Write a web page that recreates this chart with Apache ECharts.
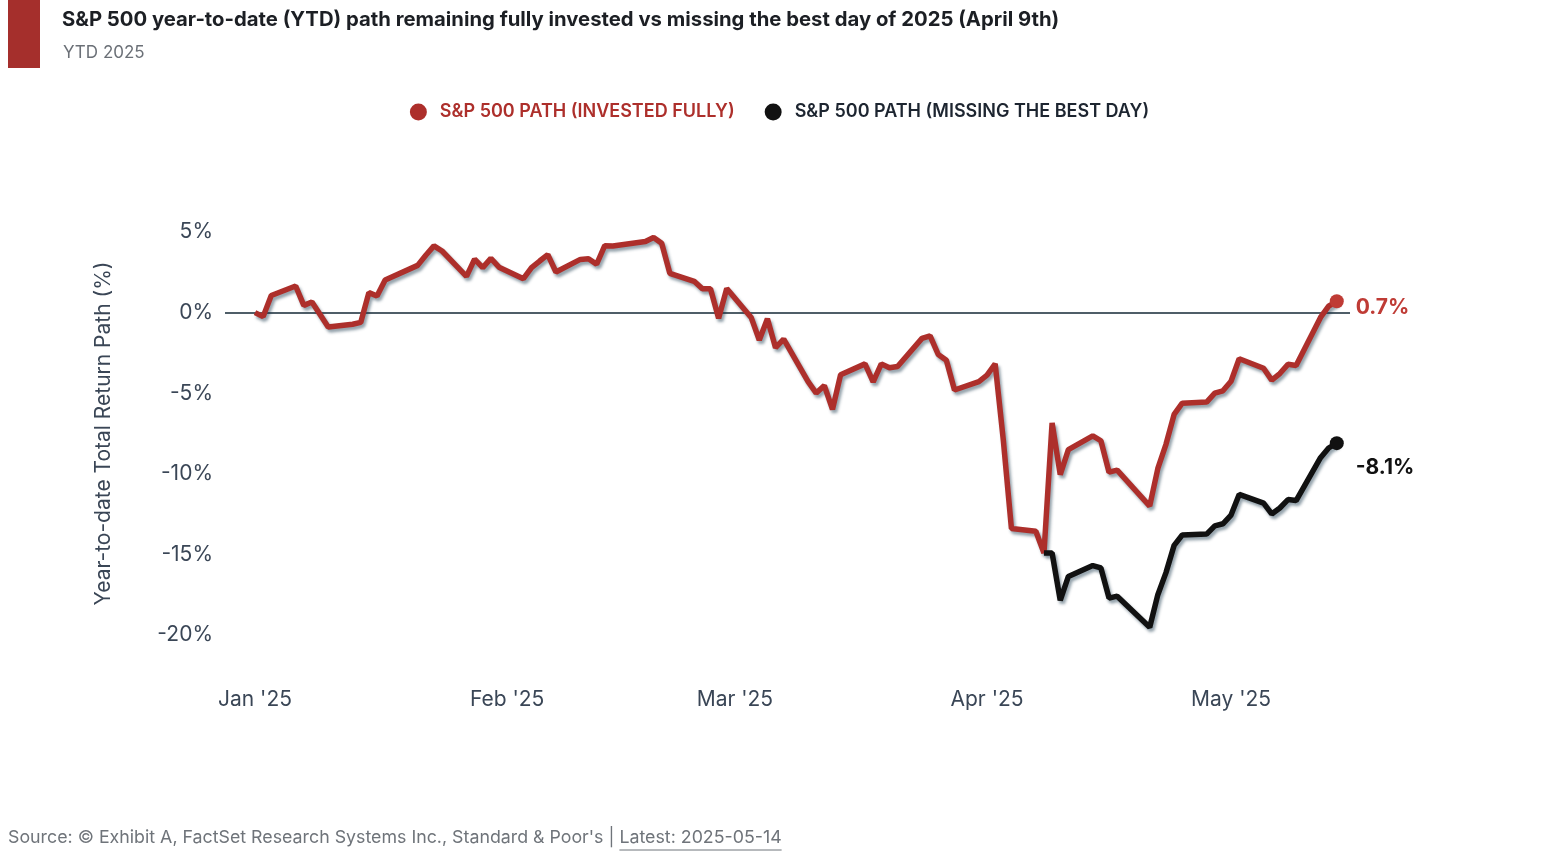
<!DOCTYPE html>
<html>
<head>
<meta charset="utf-8">
<script src="https://cdn.jsdelivr.net/npm/echarts@6/dist/echarts.min.js"></script>
<style>
html,body{margin:0;padding:0;background:#fff;}
#chart{width:1559px;height:852px;}
</style>
</head>
<body>
<div id="chart"></div>
<script>
// ---- Data ----
const investedDates = [
 '2025-01-01','2025-01-02','2025-01-03','2025-01-06','2025-01-07','2025-01-08','2025-01-10','2025-01-13','2025-01-14','2025-01-15',
 '2025-01-16','2025-01-17','2025-01-21','2025-01-22','2025-01-23','2025-01-24','2025-01-27','2025-01-28','2025-01-29','2025-01-30',
 '2025-01-31','2025-02-03','2025-02-04','2025-02-05','2025-02-06','2025-02-07','2025-02-10','2025-02-11','2025-02-12','2025-02-13',
 '2025-02-14','2025-02-18','2025-02-19','2025-02-20','2025-02-21','2025-02-24','2025-02-25','2025-02-26','2025-02-27','2025-02-28',
 '2025-03-03','2025-03-04','2025-03-05','2025-03-06','2025-03-07','2025-03-10','2025-03-11','2025-03-12','2025-03-13','2025-03-14',
 '2025-03-17','2025-03-18','2025-03-19','2025-03-20','2025-03-21','2025-03-24','2025-03-25','2025-03-26','2025-03-27','2025-03-28',
 '2025-03-31','2025-04-01','2025-04-02','2025-04-03','2025-04-04','2025-04-07','2025-04-08','2025-04-09','2025-04-10','2025-04-11',
 '2025-04-14','2025-04-15','2025-04-16','2025-04-17','2025-04-21','2025-04-22','2025-04-23','2025-04-24','2025-04-25','2025-04-28',
 '2025-04-29','2025-04-30','2025-05-01','2025-05-02','2025-05-05','2025-05-06','2025-05-07','2025-05-08','2025-05-09','2025-05-12',
 '2025-05-13','2025-05-14'
];
const investedValues = [
 0.00,-0.25,1.06,1.65,0.45,0.66,-0.89,-0.72,-0.61,1.24,
 1.03,2.02,2.93,3.56,4.14,3.82,2.25,3.32,2.79,3.36,
 2.82,2.10,2.79,3.20,3.60,2.52,3.30,3.34,3.00,4.15,
 4.13,4.41,4.66,4.30,2.44,1.94,1.48,1.48,-0.35,1.50,
 -0.30,-1.70,-0.38,-2.18,-1.64,-4.28,-4.99,-4.53,-6.00,-3.85,
 -3.18,-4.30,-3.18,-3.42,-3.34,-1.60,-1.44,-2.60,-2.95,-4.80,
 -4.28,-3.88,-3.18,-7.90,-13.40,-13.56,-14.91,-6.84,-10.05,-8.50,
 -7.65,-7.95,-9.90,-9.77,-12.00,-9.67,-8.17,-6.32,-5.62,-5.55,
 -5.00,-4.85,-4.26,-2.86,-3.45,-4.19,-3.78,-3.21,-3.28,-0.30,
 0.40,0.70
];
const missingDates = [
 '2025-04-08','2025-04-09','2025-04-10','2025-04-11','2025-04-14','2025-04-15','2025-04-16','2025-04-17','2025-04-21','2025-04-22',
 '2025-04-23','2025-04-24','2025-04-25','2025-04-28','2025-04-29','2025-04-30','2025-05-01','2025-05-02','2025-05-05','2025-05-06',
 '2025-05-07','2025-05-08','2025-05-09','2025-05-12','2025-05-13','2025-05-14'
];
const missingValues = [
 -14.91,-14.91,-17.85,-16.37,-15.69,-15.84,-17.71,-17.59,-19.52,-17.50,
 -16.13,-14.44,-13.80,-13.74,-13.23,-13.10,-12.56,-11.28,-11.82,-12.49,
 -12.12,-11.60,-11.66,-9.00,-8.40,-8.10
];
const seriesNames = ['S&P 500 PATH (INVESTED FULLY)', 'S&P 500 PATH (MISSING THE BEST DAY)'];
const yTicks = [-20, -15, -10, -5, 0, 5];
const monthLabels = ['Jan','Feb','Mar','Apr','May','Jun','Jul','Aug','Sep','Oct','Nov','Dec'];
const endLabels = ['0.7%', '-8.1%'];
const sourceText = "Source: \u00A9 Exhibit A, FactSet Research Systems Inc., Standard & Poor's | ";
const latestText = 'Latest: 2025-05-14';

const RED = '#ad2f2b';
const DOT_RED = '#bf3b35';
const BLACK = '#111111';
const TEXT = '#3a4656';
const FONT = 'Inter, "Noto Sans", sans-serif';
const FOOT_FONT = '17.8px ' + FONT;

// measure footer text to place the underlined part
const ctx = document.createElement('canvas').getContext('2d');
ctx.font = FOOT_FONT;
const srcW = ctx.measureText(sourceText).width;
const latW = ctx.measureText(latestText).width;
const latX = 8 + srcW;

const invested = investedDates.map((d, i) => [d, investedValues[i]]);
const missing = missingDates.map((d, i) => [d, missingValues[i]]);
const shadow = {shadowColor: 'rgba(20,50,70,0.45)', shadowBlur: 3, shadowOffsetX: 2, shadowOffsetY: 3};

const chart = echarts.init(document.getElementById('chart'));
chart.setOption({
  backgroundColor: '#fff',
  animation: false,
  textStyle: {fontFamily: FONT},
  graphic: [
    {type: 'rect', left: 8, top: 0, shape: {width: 32, height: 68}, style: {fill: '#a52f2c'}},
    {type: 'text', left: 62, top: 10, style: {text: 'S&P 500 year-to-date (YTD) path remaining fully invested vs missing the best day of 2025 (April 9th)', font: 'bold 20.3px ' + FONT, fill: '#1c1f24'}},
    {type: 'text', left: 63, top: 44, style: {text: 'YTD 2025', font: '17px ' + FONT, fill: '#6b7077'}},
    {type: 'text', left: 8, top: 829, style: {text: sourceText, font: FOOT_FONT, fill: '#6f747a'}},
    {type: 'text', left: latX, top: 829, style: {text: latestText, font: FOOT_FONT, fill: '#6f747a'}},
    {type: 'line', shape: {x1: latX, y1: 850, x2: latX + latW, y2: 850}, style: {stroke: '#6f747a', lineWidth: 1}}
  ],
  legend: {
    top: 98,
    left: 'center',
    itemWidth: 17,
    itemHeight: 17,
    itemGap: 30,
    icon: 'circle',
    textStyle: {fontSize: 18, fontFamily: FONT, fontWeight: 600, padding: [0, 0, 0, 8]},
    data: [
      {name: seriesNames[0], textStyle: {color: RED}},
      {name: seriesNames[1], textStyle: {color: '#1d2530'}}
    ]
  },
  grid: {left: 225, right: 209, top: 232, bottom: 217, containLabel: false},
  xAxis: {
    type: 'time',
    min: new Date(2024, 11, 28, 7, 30).getTime(),
    max: new Date(2025, 4, 15, 15, 0).getTime(),
    minInterval: 28 * 86400000,
    maxInterval: 31 * 86400000,
    axisLine: {show: false},
    axisTick: {show: false},
    splitLine: {show: false},
    axisLabel: {
      margin: 54,
      fontSize: 21,
      color: TEXT,
      fontFamily: FONT,
      formatter: function (v) {
        const d = new Date(v);
        return monthLabels[d.getMonth()] + " '" + String(d.getFullYear()).slice(2);
      }
    }
  },
  yAxis: {
    type: 'value',
    min: yTicks[0],
    max: yTicks[yTicks.length - 1],
    interval: 5,
    name: 'Year-to-date Total Return Path (%)',
    nameLocation: 'middle',
    nameGap: 111,
    nameTextStyle: {fontSize: 21, color: TEXT, fontFamily: FONT},
    axisLine: {show: false},
    axisTick: {show: false},
    splitLine: {show: false},
    axisLabel: {margin: 12, fontSize: 21, color: TEXT, fontFamily: FONT, formatter: v => v + '%'}
  },
  series: [
    {
      name: seriesNames[0],
      type: 'line',
      data: invested,
      showSymbol: false,
      color: RED,
      lineStyle: Object.assign({width: 5.5, color: RED}, shadow),
      z: 3,
      markLine: {
        silent: true,
        symbol: 'none',
        label: {show: false},
        lineStyle: {color: '#4f5e68', width: 2, type: 'solid'},
        data: [{yAxis: 0}],
        z: 1
      }
    },
    {
      name: seriesNames[1],
      type: 'line',
      data: missing,
      showSymbol: false,
      color: BLACK,
      lineStyle: Object.assign({width: 5.5, color: BLACK}, shadow),
      z: 4
    },
    {
      type: 'scatter',
      data: [invested[invested.length - 1]],
      symbolSize: 14,
      itemStyle: {color: DOT_RED, opacity: 1},
      z: 5,
      label: {show: true, position: 'right', distance: 12, offset: [0, 6], formatter: endLabels[0], color: DOT_RED, fontSize: 21, fontWeight: 'bold', fontFamily: FONT}
    },
    {
      type: 'scatter',
      data: [missing[missing.length - 1]],
      symbolSize: 14,
      itemStyle: {color: BLACK, opacity: 1},
      z: 5,
      label: {show: true, position: 'right', distance: 12, offset: [0, 25], formatter: endLabels[1], color: BLACK, fontSize: 21, fontWeight: 'bold', fontFamily: FONT}
    }
  ]
});
</script>
</body>
</html>
